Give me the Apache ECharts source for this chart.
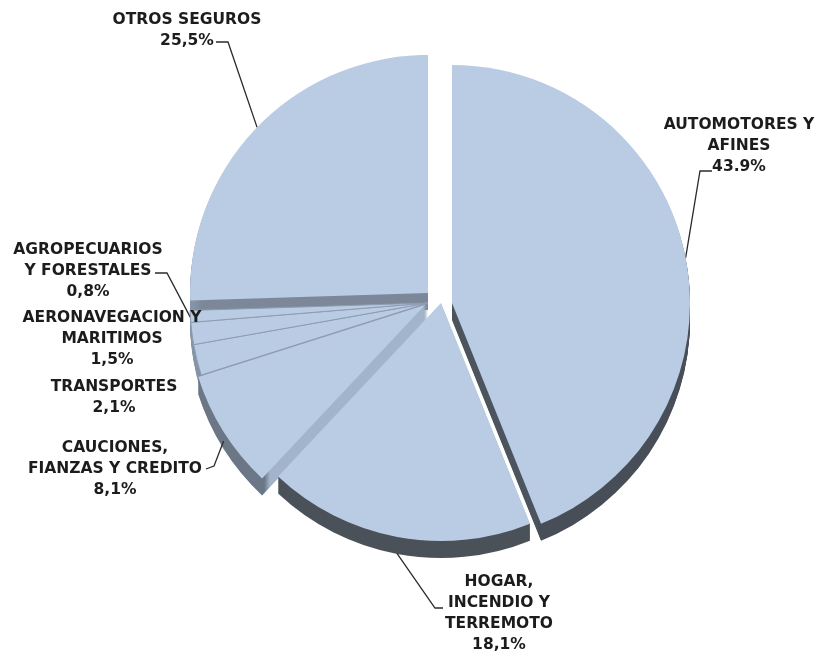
<!DOCTYPE html>
<html>
<head>
<meta charset="utf-8">
<script src="https://cdn.jsdelivr.net/npm/echarts@6/dist/echarts.min.js"></script>
<style>
  html, body { margin: 0; padding: 0; background: #ffffff; }
  #chart { width: 819px; height: 653px; }
</style>
</head>
<body>
<div id="chart"></div>
<script>
// Share of premiums by line of insurance (%)
const categories = [
  'AUTOMOTORES Y AFINES',
  'HOGAR, INCENDIO Y TERREMOTO',
  'CAUCIONES, FIANZAS Y CREDITO',
  'TRANSPORTES',
  'AERONAVEGACION Y MARITIMOS',
  'AGROPECUARIOS Y FORESTALES',
  'OTROS SEGUROS'
];
const shares = [43.9, 18.1, 8.1, 2.1, 1.5, 0.8, 25.5];
// Category names as they are broken over lines in the labels
const labelLines = [
  ['AUTOMOTORES Y', 'AFINES'],
  ['HOGAR,', 'INCENDIO Y', 'TERREMOTO'],
  ['CAUCIONES,', 'FIANZAS Y CREDITO'],
  ['TRANSPORTES'],
  ['AERONAVEGACION Y', 'MARITIMOS'],
  ['AGROPECUARIOS', 'Y FORESTALES'],
  ['OTROS SEGUROS']
];
const decimalMarks = ['.', ',', ',', ',', ',', ',', ','];

// ---- layout and style ----
const PIE_CENTER = [428, 303];
const PIE_RADIUS = 238;
const DEPTH = 17;            // thickness of the extruded disc, px
const TOP_COLOR = '#b9cce3';
const FONT = '"DejaVu Sans", Verdana, sans-serif';

// Slices drawn together share one centre; exploded slices get their own shift.
const pieGroups = [
  { members: [0], shift: [24, 0] },
  { members: [1], shift: [13, 0] },
  { members: [2], shift: [-3, 2] },
  { members: [3, 4, 5], shift: [0, 0], border: '#8e9cb1' },
  { members: [6], shift: [0, -10] }
];
// Side wall colours: radial faces (inner) and rim (outer)
const sideInner = ['#4c545e', '#58616d', '#a2b4cb', '#8e9eb4', '#8e9eb4', '#8e9eb4', '#7c8899'];
const sideOuter = ['#474e57', '#4a5159', '#6b7787', '#8593a7', '#8593a7', '#8593a7', '#8594a8'];

// Label block centres and leader-line bends
const labelCenter = [[739, 146], [499, 613], [115, 469], [114, 397], [112, 339], [88, 271], [187, 30]];
const leaderBend  = [[700, 171], [435, 608], [214, 466], null, null, [167, 273], [228, 42]];
const leaderEnd   = [[712, 171], [443, 608], [206, 469], null, null, [155, 273], [216, 42]];

const HIDDEN = { color: 'rgba(0,0,0,0)', borderWidth: 0 };

function groupCenter(g) {
  return [PIE_CENTER[0] + g.shift[0], PIE_CENTER[1] + g.shift[1]];
}

function labelText(i) {
  const pct = shares[i].toFixed(1).replace('.', decimalMarks[i]) + '%';
  return labelLines[i].concat([pct]).join('\n');
}

function basePie(center, z) {
  return {
    type: 'pie',
    center: center,
    radius: [0, PIE_RADIUS],
    startAngle: 90,
    clockwise: true,
    avoidLabelOverlap: false,
    selectedMode: false,
    silent: true,
    animation: false,
    emphasis: { disabled: true },
    z: z
  };
}

function sideLayer(g, k) {
  const c = groupCenter(g);
  const s = basePie([c[0], c[1] + k], 1);
  s.label = { show: false };
  s.labelLine = { show: false };
  s.data = shares.map((v, i) => {
    if (!g.members.includes(i)) return { name: categories[i], value: v, itemStyle: HIDDEN };
    return {
      name: categories[i],
      value: v,
      itemStyle: {
        borderWidth: 0,
        color: {
          type: 'radial', x: c[0], y: c[1] + k, r: PIE_RADIUS, global: true,
          colorStops: [
            { offset: 0, color: sideInner[i] },
            { offset: 0.95, color: sideInner[i] },
            { offset: 0.985, color: sideOuter[i] },
            { offset: 1, color: sideOuter[i] }
          ]
        }
      }
    };
  });
  return s;
}

function topFace(g) {
  const c = groupCenter(g);
  const s = basePie(c, 2);
  s.data = shares.map((v, i) => {
    const on = g.members.includes(i);
    return {
      name: categories[i],
      value: v,
      itemStyle: on
        ? { color: TOP_COLOR, borderWidth: g.border ? 1 : 0, borderColor: g.border || TOP_COLOR }
        : HIDDEN,
      label: {
        show: on,
        position: 'outside',
        formatter: labelText(i),
        color: '#1c1c1c',
        fontFamily: FONT,
        fontWeight: 700,
        fontSize: 15.5,
        lineHeight: 21,
        align: 'center'
      },
      labelLine: {
        show: on && leaderBend[i] != null,
        length: 20,
        length2: 10,
        lineStyle: { color: '#2b2b2b', width: 1.3 }
      }
    };
  });
  s.labelLayout = function (params) {
    const i = params.dataIndex;
    if (!g.members.includes(i)) return {};
    const out = {
      x: labelCenter[i][0],
      y: labelCenter[i][1],
      align: 'center',
      verticalAlign: 'middle',
      hideOverlap: false
    };
    if (leaderBend[i] && params.labelLinePoints) {
      const p0 = params.labelLinePoints[0];
      const drop = DEPTH * Math.max(0, (p0[1] - c[1]) / PIE_RADIUS);
      out.labelLinePoints = [[p0[0], p0[1] + drop], leaderBend[i], leaderEnd[i]];
    }
    return out;
  };
  return s;
}

const series = [];
for (let k = DEPTH; k >= 1; k--) {
  pieGroups.forEach(g => series.push(sideLayer(g, k)));
}
pieGroups.forEach(g => series.push(topFace(g)));

const chart = echarts.init(document.getElementById('chart'), null, { renderer: 'canvas' });
chart.setOption({
  backgroundColor: '#ffffff',
  animation: false,
  series: series
});
</script>
</body>
</html>
